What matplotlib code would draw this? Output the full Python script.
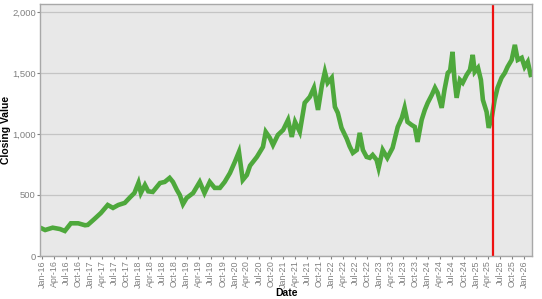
import matplotlib
matplotlib.use("Agg")
import matplotlib.pyplot as plt
import matplotlib.dates as mdates
import matplotlib.ticker as mticker
import pandas as pd

# ---------------------------------------------------------------------------
# Data
# ---------------------------------------------------------------------------

DATES = [
    "2016-01-01", "2016-01-25", "2016-03-22", "2016-05-16", "2016-06-22",
    "2016-08-07", "2016-10-01", "2016-11-22", "2016-12-13", "2017-02-01",
    "2017-03-22", "2017-05-13", "2017-06-22", "2017-08-01", "2017-09-19",
    "2017-11-01", "2017-12-01", "2018-01-01", "2018-01-19", "2018-02-19",
    "2018-03-16", "2018-04-19", "2018-06-13", "2018-07-19", "2018-08-25",
    "2018-09-19", "2018-10-19", "2018-11-10", "2018-12-04", "2019-01-01",
    "2019-02-19", "2019-04-10", "2019-05-16", "2019-06-25", "2019-08-01",
    "2019-09-10", "2019-10-16", "2019-11-25", "2020-01-01", "2020-02-01",
    "2020-03-01", "2020-04-01", "2020-04-25", "2020-06-16", "2020-08-01",
    "2020-08-22", "2020-09-22", "2020-10-16", "2020-11-22", "2021-01-01",
    "2021-02-07", "2021-03-07", "2021-04-01", "2021-05-07", "2021-06-13",
    "2021-07-22", "2021-08-22", "2021-09-22", "2021-10-22", "2021-11-13",
    "2021-12-04", "2022-01-04", "2022-01-28", "2022-02-19", "2022-03-19",
    "2022-04-28", "2022-05-19", "2022-06-13", "2022-07-13", "2022-08-04",
    "2022-08-28", "2022-09-25", "2022-10-19", "2022-11-10", "2022-12-10",
    "2022-12-25", "2023-01-25", "2023-03-01", "2023-04-10", "2023-05-19",
    "2023-06-19", "2023-07-10", "2023-08-01", "2023-09-01", "2023-09-25",
    "2023-10-16", "2023-11-16", "2023-12-10", "2024-01-01", "2024-02-01",
    "2024-02-25", "2024-03-16", "2024-04-16", "2024-05-07", "2024-06-01",
    "2024-06-19", "2024-07-07", "2024-07-22", "2024-08-07", "2024-09-01",
    "2024-09-22", "2024-10-22", "2024-11-16", "2024-12-07", "2024-12-22",
    "2025-01-16", "2025-02-07", "2025-02-22", "2025-03-22", "2025-04-07",
    "2025-05-01", "2025-05-22", "2025-06-13", "2025-07-13", "2025-08-07",
    "2025-08-28", "2025-09-28", "2025-10-22", "2025-11-13", "2025-12-13",
    "2026-01-04", "2026-01-28", "2026-02-19",
]

CLOSING = [
    225, 213, 232, 221, 205,
    268, 268, 252, 255, 303,
    352, 418, 394, 418, 435,
    484, 516, 600, 516, 582,
    530, 525, 598, 607, 640,
    607, 541, 500, 425, 476,
    516, 607, 516, 607, 558,
    558, 607, 680, 771, 853,
    623, 664, 740, 812, 894,
    1017, 968, 910, 992, 1033,
    1115, 976, 1099, 1017, 1255,
    1304, 1378, 1197, 1402, 1509,
    1419, 1460, 1222, 1173, 1050,
    960, 900, 845, 869, 1009,
    869, 812, 804, 828, 787,
    722, 869, 804, 886, 1058,
    1132, 1214, 1099, 1074, 1058,
    935, 1115, 1197, 1255, 1320,
    1378, 1337, 1214, 1361, 1500,
    1520, 1673, 1443, 1296, 1443,
    1419, 1484, 1525, 1648, 1509,
    1542, 1443, 1279, 1181, 1050,
    1140, 1279, 1378, 1460, 1500,
    1550, 1607, 1730, 1607, 1624,
    1550, 1591, 1484,
]

EVENT_DATE = "2025-05-10"

# ---------------------------------------------------------------------------
# Plot
# ---------------------------------------------------------------------------

plt.rcParams["font.family"] = ["Liberation Sans", "DejaVu Sans"]

dates = pd.to_datetime(DATES)

fig = plt.figure(figsize=(5.42, 2.99), dpi=100)
ax = fig.add_axes([40 / 542, 1 - 256 / 299, 492 / 542, 252 / 299])
ax.set_facecolor("#e8e8e8")

ax.plot(dates, CLOSING, color="#4ea83c", linewidth=3.3, solid_joinstyle="miter")
ax.axvline(pd.Timestamp(EVENT_DATE), color="#ee1111", linewidth=1.6)

ax.set_ylim(0, 2065)
ax.set_xlim(pd.Timestamp("2015-12-17"), pd.Timestamp("2026-03-01"))

ax.yaxis.set_major_locator(mticker.MultipleLocator(500))
ax.yaxis.set_major_formatter(mticker.StrMethodFormatter("{x:,.0f}"))
ax.xaxis.set_major_locator(mdates.MonthLocator(bymonth=[1, 4, 7, 10]))
ax.xaxis.set_major_formatter(mdates.DateFormatter("%b-%y"))

ax.grid(axis="y", color="#c4c4c4", linewidth=0.9)
ax.set_axisbelow(True)
for side in ax.spines.values():
    side.set_color("#a8a8a8")
    side.set_linewidth(1.0)

ax.tick_params(axis="x", labelrotation=90, labelsize=6.4, colors="#808080",
               length=2, pad=1)
ax.tick_params(axis="y", labelsize=6.8, colors="#808080", length=2, pad=1)

ax.set_xlabel("Date", fontsize=7.5, fontweight="bold", labelpad=0)
ax.set_ylabel("Closing Value", fontsize=7.5, fontweight="bold", labelpad=1)

plt.savefig("out.png", dpi=100)
